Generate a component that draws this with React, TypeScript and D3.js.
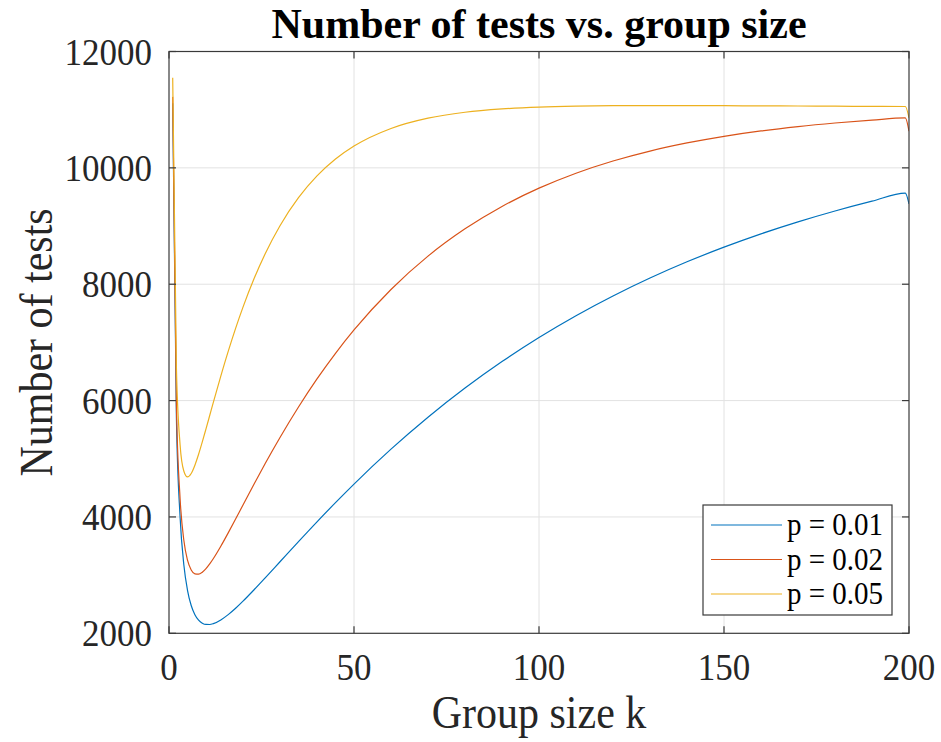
import React from "react";
import * as d3 from "d3";

// Group sizes k at which the number of tests was evaluated
const groupSizes = [
  1, 2, 3, 4, 5, 6, 7, 8, 9, 10, 11, 12, 14, 16, 18, 20, 23, 26, 30, 35, 40, 45, 50,
  60, 70, 80, 90, 100, 110, 120, 130, 140, 150, 160, 170, 180, 190, 199, 200,
];

// Number of tests for each infection probability p
const testsP01 = [
  11110, 5719, 3993, 3183, 2739, 2477, 2319, 2225, 2174, 2152, 2151, 2166, 2230, 2321, 2431,
  2553, 2749, 2953, 3230, 3576, 3916, 4246, 4565, 5165, 5714, 6215, 6670, 7084, 7459, 7798,
  8106, 8385, 8637, 8866, 9072, 9259, 9428, 9567, 9380,
];
const testsP02 = [
  11220, 5936, 4314, 3604, 3257, 3089, 3022, 3017, 3051, 3112, 3192, 3285, 3496, 3726, 3965,
  4206, 4566, 4918, 5366, 5890, 6372, 6813, 7214, 7910, 8483, 8952, 9337, 9651, 9908, 10118,
  10289, 10428, 10542, 10635, 10710, 10771, 10821, 10858, 10630,
];
const testsP05 = [
  11550, 6573, 5236, 4790, 4688, 4747, 4890, 5077, 5289, 5514, 5743, 5973, 6421, 6846, 7242,
  7607, 8097, 8524, 9006, 9487, 9861, 10151, 10374, 10677, 10854, 10956, 11013, 11045, 11061,
  11068, 11071, 11070, 11068, 11066, 11063, 11060, 11057, 11055, 10860,
];

const seriesLabels = ["p = 0.01", "p = 0.02", "p = 0.05"];
const seriesColors = ["#0072BD", "#D95319", "#EDB120"];

const xTicks = [0, 50, 100, 150, 200];
const yTicks = [2000, 4000, 6000, 8000, 10000, 12000];

const titleText = "Number of tests vs. group size";
const xLabelText = "Group size k";
const yLabelText = "Number of tests";

const WIDTH = 941;
const HEIGHT = 742;
const plot = { left: 169, right: 909, top: 51.5, bottom: 633.3 };
const FONT = "'Liberation Serif', 'Times New Roman', Times, serif";
const TICK_LEN = 7;
const TEXT_STRETCH = 1.1; // glyphs are drawn slightly tall

type LabelProps = {
  x: number;
  y: number;
  size: number;
  anchor?: "start" | "middle" | "end";
  weight?: string;
  rotate?: number;
  stretch?: number;
  fill?: string;
  children: React.ReactNode;
};

function Label({
  x,
  y,
  size,
  anchor = "start",
  weight = "normal",
  rotate = 0,
  stretch = TEXT_STRETCH,
  fill = "#262626",
  children,
}: LabelProps) {
  const t = rotate
    ? `translate(${x},${y}) rotate(${rotate}) scale(1,${stretch})`
    : `translate(${x},${y}) scale(1,${stretch})`;
  return (
    <text transform={t} textAnchor={anchor} fontSize={size} fontWeight={weight} fill={fill}>
      {children}
    </text>
  );
}

export default function App() {
  const x = d3.scaleLinear().domain([0, 200]).range([plot.left, plot.right]);
  const y = d3.scaleLinear().domain([2000, 12000]).range([plot.bottom, plot.top]);

  const seriesValues = [testsP01, testsP02, testsP05];
  const line = d3
    .line<[number, number]>()
    .x((d) => x(d[0]))
    .y((d) => y(d[1]))
    .curve(d3.curveMonotoneX);

  const axisColor = "#3a3a3a";
  const gridColor = "#e2e2e2";

  const legend = { left: 703, top: 505, width: 189, height: 110, rowGap: 34.5 };

  return (
    <svg
      width={WIDTH}
      height={HEIGHT}
      style={{ position: "absolute", left: 0, top: 0, background: "#fff" }}
      fontFamily={FONT}
    >
      <rect x={0} y={0} width={WIDTH} height={HEIGHT} fill="#fff" />

      {/* grid */}
      {xTicks
        .filter((t) => t > 0 && t < 200)
        .map((t) => (
          <line key={"gx" + t} x1={x(t)} x2={x(t)} y1={plot.top} y2={plot.bottom} stroke={gridColor} strokeWidth={1} />
        ))}
      {yTicks
        .filter((t) => t > 2000 && t < 12000)
        .map((t) => (
          <line key={"gy" + t} x1={plot.left} x2={plot.right} y1={y(t)} y2={y(t)} stroke={gridColor} strokeWidth={1} />
        ))}

      {/* curves */}
      <defs>
        <clipPath id="plotClip">
          <rect x={plot.left} y={plot.top} width={plot.right - plot.left} height={plot.bottom - plot.top} />
        </clipPath>
      </defs>
      <g clipPath="url(#plotClip)">
        {seriesValues.map((vals, i) => (
          <path
            key={"s" + i}
            d={line(groupSizes.map((k, j) => [k, vals[j]] as [number, number])) || ""}
            fill="none"
            stroke={seriesColors[i]}
            strokeWidth={1.2}
          />
        ))}
      </g>

      {/* box */}
      <rect
        x={plot.left}
        y={plot.top}
        width={plot.right - plot.left}
        height={plot.bottom - plot.top}
        fill="none"
        stroke={axisColor}
        strokeWidth={1.2}
      />

      {/* ticks */}
      {xTicks.map((t) => (
        <g key={"tx" + t}>
          <line x1={x(t)} x2={x(t)} y1={plot.bottom} y2={plot.bottom - TICK_LEN} stroke={axisColor} strokeWidth={1.2} />
          <line x1={x(t)} x2={x(t)} y1={plot.top} y2={plot.top + TICK_LEN} stroke={axisColor} strokeWidth={1.2} />
          <Label x={x(t)} y={680} size={35} anchor="middle">
            {t}
          </Label>
        </g>
      ))}
      {yTicks.map((t) => (
        <g key={"ty" + t}>
          <line x1={plot.left} x2={plot.left + TICK_LEN} y1={y(t)} y2={y(t)} stroke={axisColor} strokeWidth={1.2} />
          <line x1={plot.right} x2={plot.right - TICK_LEN} y1={y(t)} y2={y(t)} stroke={axisColor} strokeWidth={1.2} />
          <Label x={152} y={y(t) + 13} size={35} anchor="end">
            {t}
          </Label>
        </g>
      ))}

      {/* title and axis labels */}
      <Label x={(plot.left + plot.right) / 2} y={38} size={42} anchor="middle" weight="bold" stretch={1} fill="#000">
        {titleText}
      </Label>
      <Label x={(plot.left + plot.right) / 2} y={728} size={42} anchor="middle">
        {xLabelText}
      </Label>
      <Label x={52} y={(plot.top + plot.bottom) / 2} size={42} anchor="middle" rotate={-90}>
        {yLabelText}
      </Label>

      {/* legend */}
      <rect
        x={legend.left}
        y={legend.top}
        width={legend.width}
        height={legend.height}
        fill="#fff"
        stroke={axisColor}
        strokeWidth={1.2}
      />
      {seriesLabels.map((lbl, i) => {
        const cy = legend.top + 20 + i * legend.rowGap;
        return (
          <g key={"lg" + i}>
            <line x1={legend.left + 8} x2={legend.left + 79} y1={cy} y2={cy} stroke={seriesColors[i]} strokeWidth={1.2} />
            <Label x={legend.left + 84} y={cy + 10} size={29} fill="#000">
              {lbl}
            </Label>
          </g>
        );
      })}
    </svg>
  );
}
